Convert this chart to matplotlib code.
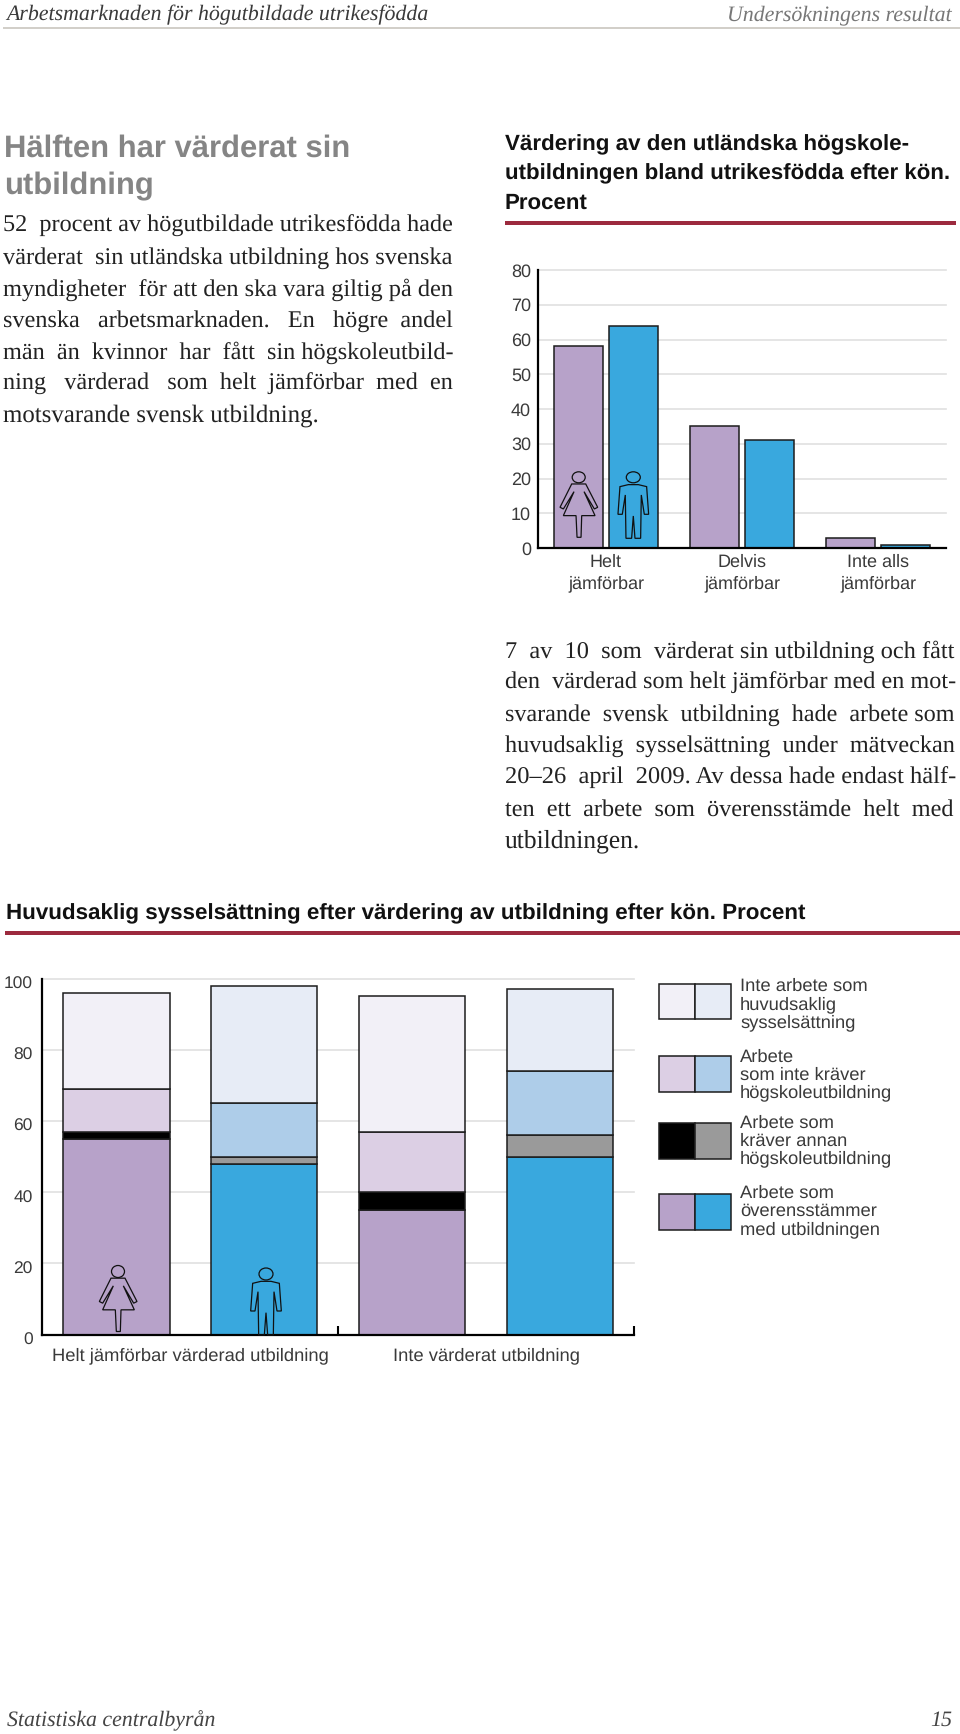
import matplotlib
matplotlib.use("Agg")
import matplotlib.pyplot as plt
from matplotlib.patches import Rectangle, Ellipse, Polygon
from matplotlib.transforms import ScaledTranslation

plt.rcParams["text.hinting"] = "no_hinting"

# ---------- data ----------
top_categories = ["Helt\njämförbar", "Delvis\njämförbar", "Inte alls\njämförbar"]
top_women = [58, 35, 3]
top_men = [64, 31, 1]

bottom_groups = ["Helt jämförbar värderad utbildning", "Inte värderat utbildning"]
matching = [55, 48, 35, 50]
other_higher = [2, 2, 5, 6]
no_higher = [12, 15, 17, 18]
no_work = [27, 33, 38, 23]

legend_labels = ["Inte arbete som\nhuvudsaklig\nsysselsättning",
                 "Arbete\nsom inte kräver\nhögskoleutbildning",
                 "Arbete som\nkräver annan\nhögskoleutbildning",
                 "Arbete som\növerensstämmer\nmed utbildningen"]

# ---------- style ----------
W, H = 960, 1734
PURPLE, BLUE = "#b7a2c9", "#39a8de"
LPURPLE, LBLUE = "#dccfe4", "#aecde9"
BLACK, GRAY = "#000000", "#9a9a9a"
PPURPLE, PBLUE = "#f2f0f7", "#e7ecf6"
EDGE = "#1c1c1c"
RED = "#9c2a3e"
GRID = "#e0e0e0"
TXT = "#3a3a3a"
SANS = "Liberation Sans"
SERIF = "Liberation Serif"

fig = plt.figure(figsize=(W / 100, H / 100), dpi=100, facecolor="white")
renderer = fig.canvas.get_renderer()


def axes_px(x0, x1, y_top, y_bot):
    return fig.add_axes([x0 / W, 1 - y_bot / H, (x1 - x0) / W, (y_bot - y_top) / H])


def line(x0, x1, base, s, size, justify=False, ha="left", **kw):
    """Place one line of text, spreading its spaces and tuning size to span x0..x1."""
    x = x0 if ha == "left" else x1
    t = fig.text(x / W, 1 - base / H, s, fontsize=size, ha=ha, va="baseline", **kw)
    target = x1 - x0
    if justify:
        parts = s.split(" ")
        gaps = [" "] * (len(parts) - 1)
        i = 0
        while True:
            old = gaps[i % len(gaps)]
            gaps[i % len(gaps)] = old + " "
            t.set_text(parts[0] + "".join(g + p for g, p in zip(gaps, parts[1:])))
            if t.get_window_extent(renderer).width > target:
                gaps[i % len(gaps)] = old
                t.set_text(parts[0] + "".join(g + p for g, p in zip(gaps, parts[1:])))
                break
            i += 1
    for _ in range(3):
        t.set_fontsize(t.get_fontsize() * target / t.get_window_extent(renderer).width)
    return t


# ---------- page text ----------
line(6, 428, 20, "Arbetsmarknaden för högutbildade utrikesfödda", 15,
     family=SERIF, style="italic", color="#3a3a3a")
line(727, 952, 20, "Undersökningens resultat", 15, ha="right",
     family=SERIF, style="italic", color="#777777")
line(7, 216, 1726, "Statistiska centralbyrån", 15, family=SERIF, style="italic", color="#444444")
line(930, 952, 1726, "15", 15, ha="right", family=SERIF, style="italic", color="#444444")

line(4, 351, 156.5, "Hälften har värderat sin", 21.5, family=SANS, weight="bold", color="#858585")
line(4, 154, 194, "utbildning", 21.5, family=SANS, weight="bold", color="#858585")

body1 = ["52 procent av högutbildade utrikesfödda hade",
         "värderat sin utländska utbildning hos svenska",
         "myndigheter för att den ska vara giltig på den",
         "svenska arbetsmarknaden. En högre andel",
         "män än kvinnor har fått sin högskoleutbild-",
         "ning värderad som helt jämförbar med en"]
for k, s in enumerate(body1):
    line(3, 453, 232.3 + 31.6 * k, s, 17.4, justify=True, family=SERIF, color="#222222")
line(3, 318, 232.3 + 31.6 * 6, "motsvarande svensk utbildning.", 17.4, family=SERIF, color="#222222")

body2 = ["7 av 10 som värderat sin utbildning och fått",
         "den värderad som helt jämförbar med en mot-",
         "svarande svensk utbildning hade arbete som",
         "huvudsaklig sysselsättning under mätveckan",
         "20–26 april 2009. Av dessa hade endast hälf-",
         "ten ett arbete som överensstämde helt med"]
for k, s in enumerate(body2):
    line(505, 955, 657.5 + 31.6 * k, s, 17.4, justify=True, family=SERIF, color="#222222")
line(505, 640, 657.5 + 31.6 * 6, "utbildningen.", 17.4, family=SERIF, color="#222222")

line(505, 908, 150, "Värdering av den utländska högskole-", 14.5, family=SANS, weight="bold", color="#111111")
line(505, 951, 179.3, "utbildningen bland utrikesfödda efter kön.", 14.5, family=SANS, weight="bold", color="#111111")
line(505, 588, 208.3, "Procent", 14.5, family=SANS, weight="bold", color="#111111")
line(6, 804, 919, "Huvudsaklig sysselsättning efter värdering av utbildning efter kön. Procent", 15,
     family=SANS, weight="bold", color="#111111")

# ---------- top chart ----------
ax = axes_px(538, 946, 270, 548)
xs = range(len(top_categories))
ax.bar([x - 0.2 for x in xs], top_women, 0.36, color=PURPLE, edgecolor=EDGE, linewidth=1.1, zorder=3)
ax.bar([x + 0.2 for x in xs], top_men, 0.36, color=BLUE, edgecolor=EDGE, linewidth=1.1, zorder=3)
ax.set_xlim(-0.5, 2.5)
ax.set_ylim(0, 80)
ax.set_yticks(range(0, 81, 10))
ax.set_xticks(list(xs))
ax.set_xticklabels(top_categories, linespacing=1.3)
ax.tick_params(axis="both", length=0, labelsize=13, labelcolor=TXT)
ax.tick_params(axis="x", pad=4.5)
ax.tick_params(axis="y", pad=5)
ax.grid(axis="y", color=GRID, linewidth=1.2, zorder=0, clip_on=False)
ax.set_axisbelow(True)

# ---------- bottom chart ----------
bx = axes_px(42.4, 634, 978.7, 1334.5)
pos = list(range(len(matching)))
c1 = [PURPLE, BLUE] * 2
c2 = [BLACK, GRAY] * 2
c3 = [LPURPLE, LBLUE] * 2
c4 = [PPURPLE, PBLUE] * 2
bottom = [0] * len(pos)
for vals, cols in [(matching, c1), (other_higher, c2), (no_higher, c3), (no_work, c4)]:
    bx.bar(pos, vals, 0.72, bottom=bottom, color=cols, edgecolor=EDGE, linewidth=1.1, zorder=3)
    bottom = [a + b for a, b in zip(bottom, vals)]
bx.set_xlim(-0.5, 3.5)
bx.set_ylim(0, 100)
bx.set_yticks(range(0, 101, 20))
bx.set_xticks([1.5, 3.5])
bx.set_xticklabels([])
bx.set_xticks([0.5, 2.5], minor=True)
bx.set_xticklabels(bottom_groups, minor=True)
bx.tick_params(axis="x", which="major", direction="in", length=6.5, width=1.5, color="black")
bx.tick_params(axis="x", which="minor", length=0, labelsize=13.2, labelcolor=TXT, pad=9.5)
bx.tick_params(axis="y", length=0, labelsize=12.5, labelcolor=TXT, pad=7)
bx.grid(axis="y", color=GRID, linewidth=1.2, zorder=0, clip_on=False)
bx.set_axisbelow(True)

for a in (ax, bx):
    a.patch.set_alpha(0)
    a.spines[["top", "right"]].set_visible(False)
    a.spines[["left", "bottom"]].set_linewidth(1.6)
    a.spines[["left", "bottom"]].set_color("black")
    a.spines[["left", "bottom"]].set_zorder(5)
for lab in ax.get_xticklabels() + ax.get_yticklabels() + bx.get_yticklabels() + bx.get_xticklabels(minor=True):
    lab.set_family(SANS)
down = ScaledTranslation(0, -4 / 100, fig.dpi_scale_trans)
for lab in bx.get_yticklabels():
    lab.set_transform(lab.get_transform() + down)

# ---------- overlay: rules, legend, pictograms (page pixel coordinates) ----------
ov = fig.add_axes([0, 0, 1, 1], zorder=10)
ov.set_xlim(0, W)
ov.set_ylim(H, 0)
ov.axis("off")

ov.add_patch(Rectangle((3, 26.7), W - 3, 2.2, color="#d2cfc9", lw=0))
ov.add_patch(Rectangle((505, 221), 451, 4, color=RED, lw=0))
ov.add_patch(Rectangle((5, 931), W - 5, 4, color=RED, lw=0))

legend_tops = [983.5, 1056, 1123, 1194]
legend_cols = [(PPURPLE, PBLUE), (LPURPLE, LBLUE), (BLACK, GRAY), (PURPLE, BLUE)]
legend_text = [986.5, 1056.8, 1122.8, 1193.2]
for top, (ca, cb), lab, ty in zip(legend_tops, legend_cols, legend_labels, legend_text):
    ov.add_patch(Rectangle((659, top), 36, 35.7, fc=ca, ec=EDGE, lw=1.1))
    ov.add_patch(Rectangle((695, top), 36, 35.7, fc=cb, ec=EDGE, lw=1.1))
    for j, s in enumerate(lab.split("\n")):
        ov.text(740, ty + 18 * j, s, fontsize=13.2, color=TXT, family=SANS, ha="left", va="center")

WOMAN = [(-21, 20), (21, 20), (57, 90), (47, 95), (16, 43), (49, 115), (9, 115), (7, 180), (-5, 180),
         (-8, 115), (-46, 115), (-14, 43), (-46, 95), (-56, 90)]
MAN = [(-40, 28), (-15, 22), (15, 22), (40, 28), (46, 111), (33, 111), (24, 53), (22, 183), (5, 183),
       (0, 116), (-5, 183), (-22, 183), (-24, 53), (-33, 111), (-46, 111)]


def figure(cx, cy, outline, hw, hh):
    pts = [(cx + px / 3, cy + py / 3) for px, py in outline]
    ov.add_patch(Polygon(pts, closed=True, fill=False, ec="#111111", lw=0.9, joinstyle="miter"))
    ov.add_patch(Ellipse((cx, cy), hw, hh, fill=False, ec="#111111", lw=0.9))


figure(578.7, 477.3, WOMAN, 13, 11)
figure(633.3, 477.3, MAN, 14, 11)
figure(118, 1271.5, WOMAN, 13, 12)
figure(266, 1274, MAN, 14, 12)

fig.savefig("out.png", dpi=100, facecolor="white")
